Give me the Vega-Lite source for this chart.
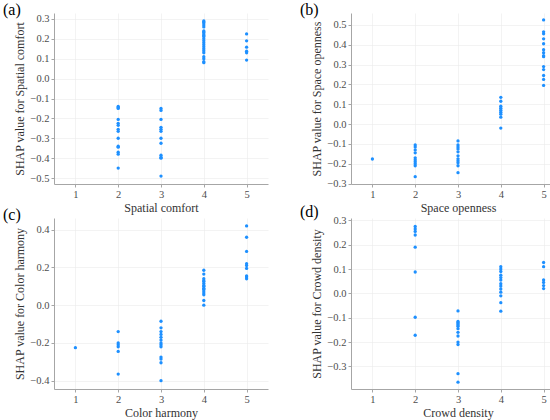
{
  "$schema": "https://vega.github.io/schema/vega-lite/v6.json",
  "padding": {"top": 2, "left": 3, "right": 3, "bottom": 2},
  "background": "white",
  "datasets": {
    "comfort": [
      {"score": 2, "shap": -0.14}, {"score": 2, "shap": -0.145}, {"score": 2, "shap": -0.15}, {"score": 2, "shap": -0.205},
      {"score": 2, "shap": -0.225}, {"score": 2, "shap": -0.235}, {"score": 2, "shap": -0.255}, {"score": 2, "shap": -0.265},
      {"score": 2, "shap": -0.3}, {"score": 2, "shap": -0.34}, {"score": 2, "shap": -0.345}, {"score": 2, "shap": -0.37},
      {"score": 2, "shap": -0.38}, {"score": 2, "shap": -0.45},
      {"score": 3, "shap": -0.15}, {"score": 3, "shap": -0.16}, {"score": 3, "shap": -0.205}, {"score": 3, "shap": -0.245},
      {"score": 3, "shap": -0.255}, {"score": 3, "shap": -0.265}, {"score": 3, "shap": -0.3}, {"score": 3, "shap": -0.325},
      {"score": 3, "shap": -0.385}, {"score": 3, "shap": -0.395}, {"score": 3, "shap": -0.4}, {"score": 3, "shap": -0.49},
      {"score": 4, "shap": 0.29}, {"score": 4, "shap": 0.285}, {"score": 4, "shap": 0.28}, {"score": 4, "shap": 0.27},
      {"score": 4, "shap": 0.26}, {"score": 4, "shap": 0.24}, {"score": 4, "shap": 0.235}, {"score": 4, "shap": 0.23},
      {"score": 4, "shap": 0.22}, {"score": 4, "shap": 0.215}, {"score": 4, "shap": 0.21}, {"score": 4, "shap": 0.2},
      {"score": 4, "shap": 0.19}, {"score": 4, "shap": 0.18}, {"score": 4, "shap": 0.17}, {"score": 4, "shap": 0.16},
      {"score": 4, "shap": 0.15}, {"score": 4, "shap": 0.14}, {"score": 4, "shap": 0.13}, {"score": 4, "shap": 0.11},
      {"score": 4, "shap": 0.1}, {"score": 4, "shap": 0.085}, {"score": 4, "shap": 0.08},
      {"score": 5, "shap": 0.225}, {"score": 5, "shap": 0.19}, {"score": 5, "shap": 0.158}, {"score": 5, "shap": 0.138},
      {"score": 5, "shap": 0.13}, {"score": 5, "shap": 0.093}
    ],
    "openness": [
      {"score": 1, "shap": -0.176},
      {"score": 2, "shap": -0.105}, {"score": 2, "shap": -0.115}, {"score": 2, "shap": -0.13}, {"score": 2, "shap": -0.145},
      {"score": 2, "shap": -0.17}, {"score": 2, "shap": -0.18}, {"score": 2, "shap": -0.19}, {"score": 2, "shap": -0.2},
      {"score": 2, "shap": -0.21}, {"score": 2, "shap": -0.265},
      {"score": 3, "shap": -0.085}, {"score": 3, "shap": -0.105}, {"score": 3, "shap": -0.115}, {"score": 3, "shap": -0.125},
      {"score": 3, "shap": -0.14}, {"score": 3, "shap": -0.16}, {"score": 3, "shap": -0.175}, {"score": 3, "shap": -0.185},
      {"score": 3, "shap": -0.195}, {"score": 3, "shap": -0.21}, {"score": 3, "shap": -0.245},
      {"score": 4, "shap": 0.135}, {"score": 4, "shap": 0.115}, {"score": 4, "shap": 0.09}, {"score": 4, "shap": 0.08},
      {"score": 4, "shap": 0.07}, {"score": 4, "shap": 0.06}, {"score": 4, "shap": 0.05}, {"score": 4, "shap": 0.035},
      {"score": 4, "shap": -0.02},
      {"score": 5, "shap": 0.525}, {"score": 5, "shap": 0.465}, {"score": 5, "shap": 0.455}, {"score": 5, "shap": 0.43},
      {"score": 5, "shap": 0.405}, {"score": 5, "shap": 0.375}, {"score": 5, "shap": 0.36}, {"score": 5, "shap": 0.345},
      {"score": 5, "shap": 0.34}, {"score": 5, "shap": 0.29}, {"score": 5, "shap": 0.275}, {"score": 5, "shap": 0.245},
      {"score": 5, "shap": 0.225}, {"score": 5, "shap": 0.195}
    ],
    "harmony": [
      {"score": 1, "shap": -0.225},
      {"score": 2, "shap": -0.14}, {"score": 2, "shap": -0.2}, {"score": 2, "shap": -0.21}, {"score": 2, "shap": -0.22},
      {"score": 2, "shap": -0.245}, {"score": 2, "shap": -0.365},
      {"score": 3, "shap": -0.085}, {"score": 3, "shap": -0.12}, {"score": 3, "shap": -0.14}, {"score": 3, "shap": -0.155},
      {"score": 3, "shap": -0.17}, {"score": 3, "shap": -0.185}, {"score": 3, "shap": -0.2}, {"score": 3, "shap": -0.21},
      {"score": 3, "shap": -0.22}, {"score": 3, "shap": -0.275}, {"score": 3, "shap": -0.285}, {"score": 3, "shap": -0.305},
      {"score": 3, "shap": -0.4},
      {"score": 4, "shap": 0.185}, {"score": 4, "shap": 0.165}, {"score": 4, "shap": 0.14}, {"score": 4, "shap": 0.13},
      {"score": 4, "shap": 0.125}, {"score": 4, "shap": 0.115}, {"score": 4, "shap": 0.105}, {"score": 4, "shap": 0.1},
      {"score": 4, "shap": 0.09}, {"score": 4, "shap": 0.085}, {"score": 4, "shap": 0.075}, {"score": 4, "shap": 0.065},
      {"score": 4, "shap": 0.055}, {"score": 4, "shap": 0.025}, {"score": 4, "shap": 0.0},
      {"score": 5, "shap": 0.42}, {"score": 5, "shap": 0.36}, {"score": 5, "shap": 0.285}, {"score": 5, "shap": 0.22},
      {"score": 5, "shap": 0.21}, {"score": 5, "shap": 0.195}, {"score": 5, "shap": 0.155}, {"score": 5, "shap": 0.15},
      {"score": 5, "shap": 0.14}
    ],
    "density": [
      {"score": 2, "shap": 0.275}, {"score": 2, "shap": 0.265}, {"score": 2, "shap": 0.255}, {"score": 2, "shap": 0.24},
      {"score": 2, "shap": 0.19}, {"score": 2, "shap": 0.088}, {"score": 2, "shap": -0.098}, {"score": 2, "shap": -0.172},
      {"score": 3, "shap": -0.072}, {"score": 3, "shap": -0.115}, {"score": 3, "shap": -0.12}, {"score": 3, "shap": -0.125},
      {"score": 3, "shap": -0.13}, {"score": 3, "shap": -0.135}, {"score": 3, "shap": -0.145}, {"score": 3, "shap": -0.16},
      {"score": 3, "shap": -0.175}, {"score": 3, "shap": -0.2}, {"score": 3, "shap": -0.21}, {"score": 3, "shap": -0.33},
      {"score": 3, "shap": -0.365},
      {"score": 4, "shap": 0.11}, {"score": 4, "shap": 0.1}, {"score": 4, "shap": 0.09}, {"score": 4, "shap": 0.075},
      {"score": 4, "shap": 0.065}, {"score": 4, "shap": 0.055}, {"score": 4, "shap": 0.04}, {"score": 4, "shap": 0.03},
      {"score": 4, "shap": 0.018}, {"score": 4, "shap": 0.005}, {"score": 4, "shap": -0.01}, {"score": 4, "shap": -0.038},
      {"score": 4, "shap": -0.073},
      {"score": 5, "shap": 0.127}, {"score": 5, "shap": 0.11}, {"score": 5, "shap": 0.055}, {"score": 5, "shap": 0.045},
      {"score": 5, "shap": 0.032}, {"score": 5, "shap": 0.02}
    ]
  },
  "columns": 2,
  "spacing": {"row": -10, "column": 32},
  "concat": [
    {
      "title": {"text": "(a)"},
      "width": 214,
      "height": 171,
      "data": {"name": "comfort"},
      "mark": {"type": "circle", "size": 11, "opacity": 1, "color": "#1e90ff"},
      "encoding": {
        "x": {"field": "score", "type": "quantitative", "scale": {"domain": [0.5, 5.5], "nice": false, "zero": false},
              "axis": {"values": [1, 2, 3, 4, 5], "format": "d", "title": "Spatial comfort", "labelFont": "Liberation Serif"}},
        "y": {"field": "shap", "type": "quantitative", "scale": {"domain": [-0.53, 0.33], "nice": false, "zero": false},
              "axis": {"values": [-0.5, -0.4, -0.3, -0.2, -0.1, 0, 0.1, 0.2, 0.3], "format": ".1f", "title": "SHAP value for Spatial comfort", "labelFont": "Liberation Serif"}}
      }
    },
    {
      "title": {"text": "(b)"},
      "width": 214,
      "height": 171,
      "data": {"name": "openness"},
      "mark": {"type": "circle", "size": 11, "opacity": 1, "color": "#1e90ff"},
      "encoding": {
        "x": {"field": "score", "type": "quantitative", "scale": {"domain": [0.5, 5.5], "nice": false, "zero": false},
              "axis": {"values": [1, 2, 3, 4, 5], "format": "d", "title": "Space openness", "labelFont": "Liberation Serif"}},
        "y": {"field": "shap", "type": "quantitative", "scale": {"domain": [-0.302, 0.56], "nice": false, "zero": false},
              "axis": {"values": [-0.3, -0.2, -0.1, 0, 0.1, 0.2, 0.3, 0.4, 0.5], "format": ".1f", "title": "SHAP value for Space openness", "labelFont": "Liberation Serif"}}
      }
    },
    {
      "title": {"text": "(c)"},
      "width": 214,
      "height": 171,
      "data": {"name": "harmony"},
      "mark": {"type": "circle", "size": 11, "opacity": 1, "color": "#1e90ff"},
      "encoding": {
        "x": {"field": "score", "type": "quantitative", "scale": {"domain": [0.5, 5.5], "nice": false, "zero": false},
              "axis": {"values": [1, 2, 3, 4, 5], "format": "d", "title": "Color harmony", "labelFont": "Liberation Serif"}},
        "y": {"field": "shap", "type": "quantitative", "scale": {"domain": [-0.444, 0.462], "nice": false, "zero": false},
              "axis": {"values": [-0.4, -0.2, 0, 0.2, 0.4], "format": ".1f", "title": "SHAP value for Color harmony", "labelFont": "Liberation Serif"}}
      }
    },
    {
      "title": {"text": "(d)"},
      "width": 214,
      "height": 171,
      "data": {"name": "density"},
      "mark": {"type": "circle", "size": 11, "opacity": 1, "color": "#1e90ff"},
      "encoding": {
        "x": {"field": "score", "type": "quantitative", "scale": {"domain": [0.5, 5.5], "nice": false, "zero": false},
              "axis": {"values": [1, 2, 3, 4, 5], "format": "d", "title": "Crowd density", "labelFont": "Liberation Serif"}},
        "y": {"field": "shap", "type": "quantitative", "scale": {"domain": [-0.393, 0.31], "nice": false, "zero": false},
              "axis": {"values": [-0.3, -0.2, -0.1, 0, 0.1, 0.2, 0.3], "format": ".1f", "title": "SHAP value for Crowd density", "labelFont": "Liberation Serif"}}
      }
    }
  ],
  "config": {
    "view": {"stroke": null},
    "font": "Liberation Serif",
    "title": {
      "font": "Liberation Serif",
      "fontSize": 16,
      "fontWeight": "normal",
      "color": "#000000",
      "anchor": "start",
      "frame": "group",
      "dx": -51,
      "dy": 3,
      "offset": -2
    },
    "axis": {
      "grid": true,
      "gridColor": "#ebebeb",
      "gridWidth": 0.6,
      "domainColor": "#a6a6a6",
      "domainWidth": 1,
      "tickColor": "#a6a6a6",
      "tickSize": 3,
      "labelFont": "Liberation Serif",
      "labelFontSize": 10.5,
      "labelColor": "#4d4d4d",
      "labelPadding": 2,
      "titleFont": "Liberation Serif",
      "titleFontSize": 12,
      "titleFontWeight": "normal",
      "titleColor": "#333333",
      "titlePadding": 3
    }
  }
}
